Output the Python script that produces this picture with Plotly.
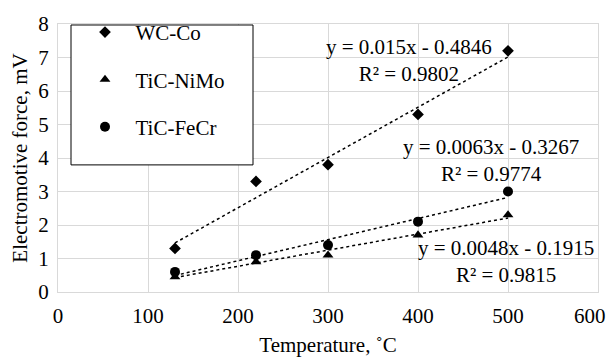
import plotly.graph_objects as go

temps = [130, 220, 300, 400, 500]
wc_co = [1.3, 3.3, 3.8, 5.3, 7.2]
tic_nimo = [0.45, 0.9, 1.1, 1.7, 2.3]
tic_fecr = [0.6, 1.1, 1.4, 2.1, 3.0]

series_names = ["WC-Co", "TiC-NiMo", "TiC-FeCr"]
series_values = [wc_co, tic_nimo, tic_fecr]
symbols = ["diamond", "triangle-up", "circle"]
marker_sizes = [9, 9.5, 10]
slopes = [0.015, 0.0048, 0.0063]
intercepts = [-0.4846, -0.1915, -0.3267]
r2 = [0.9802, 0.9815, 0.9774]
x_ticks = [0, 100, 200, 300, 400, 500, 600]

FONT = "'Liberation Serif', 'Times New Roman', serif"
fig = go.Figure()

for i, (name, vals) in enumerate(zip(series_names, series_values)):
    xs = [min(temps), max(temps)]
    ys = [slopes[i] * x + intercepts[i] for x in xs]
    fig.add_trace(go.Scatter(x=xs, y=ys, mode="lines", showlegend=False,
                             line=dict(color="black", width=1.5, dash="dot"),
                             hoverinfo="skip"))

for i, (name, vals) in enumerate(zip(series_names, series_values)):
    fig.add_trace(go.Scatter(x=temps, y=vals, mode="markers", name="\u00a0\u00a0" + name,
                             legendgroup=name,
                             marker=dict(symbol=symbols[i], size=marker_sizes[i], color="black")))

def eq_text(i):
    s = f"{slopes[i]}x - {abs(intercepts[i])}"
    return f"y = {s}<br>R² = {r2[i]}"

ann_pos = [(390, 6.9), (498, 0.91), (481, 3.93)]
for i in range(3):
    fig.add_annotation(x=ann_pos[i][0], y=ann_pos[i][1], text=eq_text(i), showarrow=False,
                       font=dict(family=FONT, size=21, color="black"), align="center",
                       xanchor="center", yanchor="middle")

# last tick label (600) drawn as annotation so it stays inside the page
fig.add_annotation(x=x_ticks[-1], y=0, yref="paper", yshift=-10, xshift=10, text=str(x_ticks[-1]),
                   showarrow=False, xanchor="right", yanchor="top",
                   font=dict(family=FONT, size=21, color="black"))

# legend frame
fig.add_shape(type="rect", xref="paper", yref="paper",
              x0=(71 - 58) / 540, x1=(253 - 58) / 540, y0=(292 - 163) / 272, y1=(292 - 21) / 272,
              line=dict(color="black", width=1), fillcolor="white", layer="above")

grid = "#d9d9d9"
fig.update_layout(
    width=611, height=358,
    margin=dict(l=58, r=13, t=20, b=66),
    paper_bgcolor="white", plot_bgcolor="white",
    font=dict(family=FONT, size=21, color="black"),
    xaxis=dict(range=[0, 600], tickvals=x_ticks[:-1], showgrid=True, gridcolor=grid, gridwidth=1,
               zeroline=False, showline=True, linecolor=grid, mirror=True, automargin=False,
               ticks="", ticklen=0, ticklabelstandoff=5, tickfont=dict(family=FONT, size=21),
               title=dict(text="Temperature, ˚C", font=dict(family=FONT, size=21), standoff=10)),
    yaxis=dict(range=[0, 8], dtick=1, showgrid=True, gridcolor=grid, gridwidth=1,
               zeroline=False, showline=True, linecolor=grid, mirror=True, automargin=False,
               ticks="", ticklabelstandoff=4, tickfont=dict(family=FONT, size=21),
               title=dict(text="Electromotive force, mV", font=dict(family=FONT, size=21), standoff=4)),
    legend=dict(x=(85 - 58) / 540, y=1.045, xanchor="left", yanchor="top",
                bgcolor="rgba(0,0,0,0)", borderwidth=0,
                font=dict(family=FONT, size=21), traceorder="grouped", tracegroupgap=17),
)

fig.write_html("out.html")
